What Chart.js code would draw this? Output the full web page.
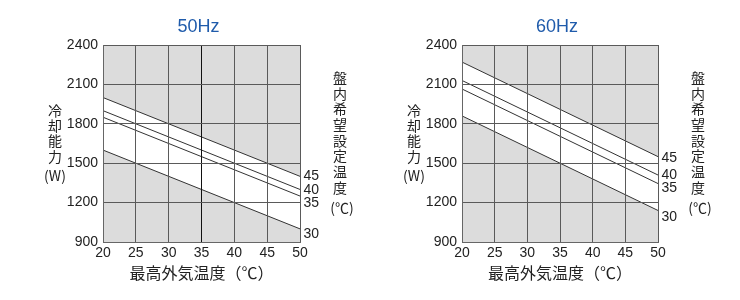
<!DOCTYPE html>
<html>
<head>
<meta charset="utf-8">
<script src="https://cdn.jsdelivr.net/npm/chart.js@4/dist/chart.umd.min.js"></script>
<style>
html, body { margin: 0; padding: 0; background: #fff; }
#wrap { width: 740px; height: 300px; display: flex; }
canvas { display: block; }
</style>
</head>
<body>
<div id="wrap">
    <canvas id="chart50" width="370" height="300"></canvas>
    <canvas id="chart60" width="370" height="300"></canvas>
</div>
<script>
// outside air temperature (°C) at the two ends of each line
const outsideTemp = [20, 50];
// cabinet set temperatures (°C), one line each
const setTemps = ['45', '40', '35', '30'];
// cooling capacity (W) at 20°C and 50°C, same order as setTemps
const cap50Hz = [[2000, 1400], [1900, 1300], [1850, 1250], [1600, 1000]];
const cap60Hz = [[2270, 1550], [2130, 1410], [2065, 1345], [1860, 1140]];
// axis ticks
const yTicks = [900, 1200, 1500, 1800, 2100, 2400];
const xTicks = [20, 25, 30, 35, 40, 45, 50];

const yTitleChars = ['冷', '却', '能', '力'];
const rightTitleChars = ['盤', '内', '希', '望', '設', '定', '温', '度'];

const NUM_FONT = '"Liberation Sans", Arial, sans-serif';
const JP_FONT = '"Noto Sans CJK JP", "Liberation Sans", sans-serif';
const TEXT = '#222';

Chart.defaults.font.family = NUM_FONT;
Chart.defaults.color = TEXT;

// gray plot background, the white band comes from the fill between lines
let plotBackground = {
    id: 'plotBackground',
    beforeDraw: function(chart) {
        let a = chart.chartArea;
        let ctx = chart.ctx;
        ctx.save();
        ctx.fillStyle = '#dcdcdc';
        ctx.fillRect(a.left, a.top, a.right - a.left, a.bottom - a.top);
        ctx.restore();
    }
};

// title, upright stacked axis titles and the line labels on the right
let sideText = {
    id: 'sideText',
    afterDraw: function(chart, args, opts) {
        let a = chart.chartArea;
        let ctx = chart.ctx;
        ctx.save();
        ctx.textAlign = 'center';
        ctx.textBaseline = 'middle';

        ctx.fillStyle = '#1f5bab';
        ctx.font = '18px ' + NUM_FONT;
        ctx.fillText(opts.title, (a.left + a.right) / 2 - 3, 27);

        ctx.fillStyle = TEXT;
        ctx.font = '14px ' + JP_FONT;
        let lx = a.left - 48;
        yTitleChars.forEach((ch, i) => ctx.fillText(ch, lx, 110.5 + i * 15.3));
        ctx.fillText('(W)', lx, 176);

        let rx = a.right + 40;
        rightTitleChars.forEach((ch, i) => ctx.fillText(ch, rx, 77.5 + i * 15.7));
        ctx.fillText('(℃)', rx + 2, 208);

        ctx.textAlign = 'left';
        ctx.font = '14px ' + NUM_FONT;
        let yScale = chart.scales.y;
        chart.data.datasets.forEach((ds, i) => {
            let yEnd = yScale.getPixelForValue(ds.data[ds.data.length - 1].y);
            ctx.fillText(ds.label, a.right + 3.5, yEnd + opts.labelShift[i]);
        });
        ctx.restore();
    }
};

let makeDatasets = function(caps) {
    return caps.map((vals, i) => ({
        label: setTemps[i],
        data: vals.map((v, j) => ({ x: outsideTemp[j], y: v })),
        borderColor: '#333',
        borderWidth: 1,
        pointRadius: 0,
        tension: 0,
        backgroundColor: '#fff',
        fill: i === 0 ? { target: caps.length - 1 } : false
    }));
};

let createChart = function(id, title, caps, yWidth, padRight, labelShift, darkX) {
    return new Chart(document.getElementById(id), {
        type: 'line',
        data: { datasets: makeDatasets(caps) },
        options: {
            responsive: false,
            animation: false,
            layout: { padding: { top: 45, right: padRight, left: 0, bottom: 0 } },
            scales: {
                x: {
                    type: 'linear',
                    min: xTicks[0],
                    max: xTicks[xTicks.length - 1],
                    afterBuildTicks: function(scale) {
                        scale.ticks = xTicks.map(v => ({ value: v }));
                    },
                    afterFit: function(scale) { scale.height = 58; },
                    grid: {
                        z: 1,
                        drawTicks: false,
                        color: (c) => (darkX && c.tick && c.tick.value === darkX) ? '#111' : '#5a5a5a',
                        lineWidth: 1
                    },
                    border: { color: '#666', width: 1, z: 2 },
                    ticks: { font: { size: 14 }, padding: 3, autoSkip: false, maxRotation: 0, callback: v => String(v) },
                    title: {
                        display: true,
                        text: '最高外気温度（℃）',
                        font: { size: 16, family: JP_FONT },
                        padding: { top: 0, bottom: 17 }
                    }
                },
                y: {
                    min: yTicks[0],
                    max: yTicks[yTicks.length - 1],
                    afterBuildTicks: function(scale) {
                        scale.ticks = yTicks.map(v => ({ value: v }));
                    },
                    afterFit: function(scale) { scale.width = yWidth; },
                    grid: { z: 1, drawTicks: false, color: '#5a5a5a', lineWidth: 1 },
                    border: { color: '#666', width: 1, z: 2 },
                    ticks: { font: { size: 14 }, padding: 5, callback: v => String(v) }
                }
            },
            plugins: {
                legend: { display: false },
                tooltip: { enabled: false },
                filler: { propagate: false, drawTime: 'beforeDatasetsDraw' },
                sideText: { title: title, labelShift: labelShift }
            }
        },
        plugins: [plotBackground, sideText]
    });
};

let main = function() {
    createChart('chart50', '50Hz', cap50Hz, 103, 70, [0, 1, 7, 5], 35);
    createChart('chart60', '60Hz', cap60Hz, 92, 82, [1.5, 0, 4.5, 6.5], null);
};

main();
</script>
</body>
</html>
